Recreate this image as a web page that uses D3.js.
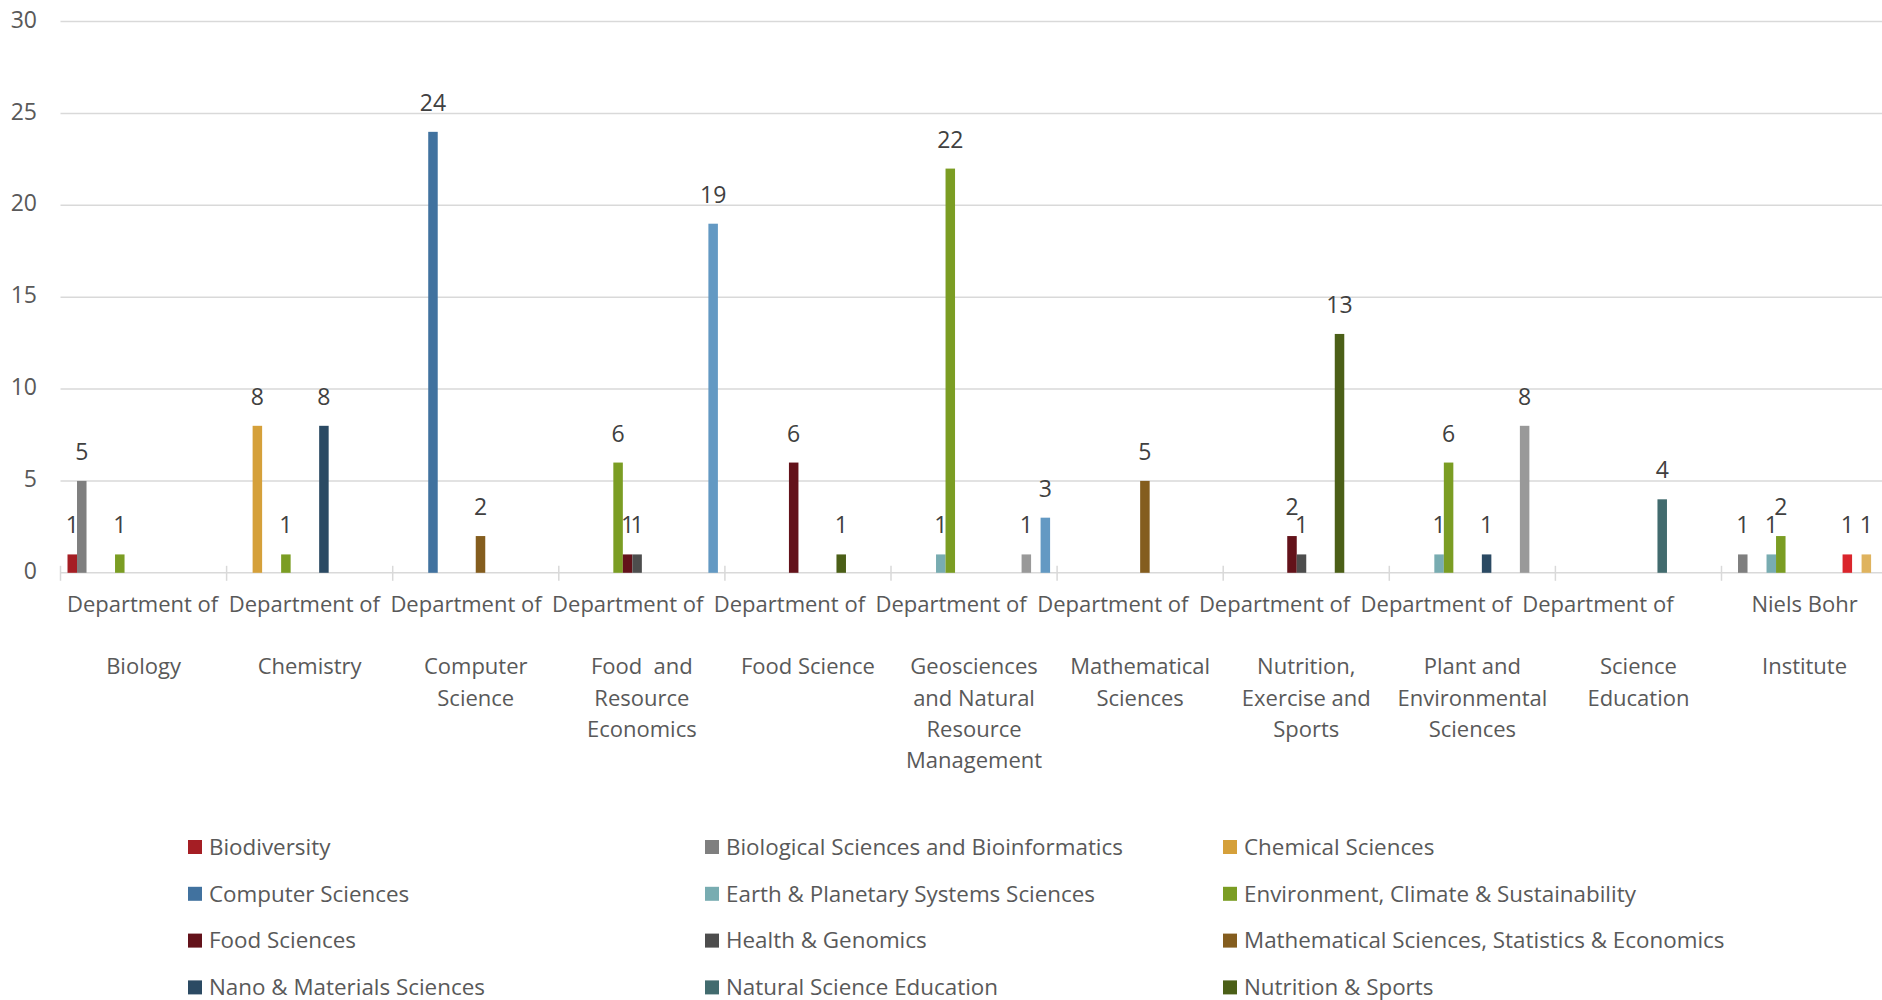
<!DOCTYPE html>
<html>
<head>
<meta charset="utf-8">
<script src="https://cdn.jsdelivr.net/npm/d3@7"></script>
<style>
  html, body { margin: 0; padding: 0; background: #fff; overflow: hidden; }
  svg { display: block; font-family: "Open Sans", "Noto Sans", sans-serif; }
</style>
</head>
<body>
<svg id="chart" width="1882" height="1000"></svg>
<script>
// ---------- data ----------
const categories = [
  "Department of Biology",
  "Department of Chemistry",
  "Department of Computer Science",
  "Department of Food and Resource Economics",
  "Department of Food Science",
  "Department of Geosciences and Natural Resource Management",
  "Department of Mathematical Sciences",
  "Department of Nutrition, Exercise and Sports",
  "Department of Plant and Environmental Sciences",
  "Department of Science Education",
  "Niels Bohr Institute"
];
const categoryLines = [
  ["Department of", "", "Biology"],
  ["Department of", "", "Chemistry"],
  ["Department of", "", "Computer", "Science"],
  ["Department of", "", "Food  and", "Resource", "Economics"],
  ["Department of", "", "Food Science"],
  ["Department of", "", "Geosciences", "and Natural", "Resource", "Management"],
  ["Department of", "", "Mathematical", "Sciences"],
  ["Department of", "", "Nutrition,", "Exercise and", "Sports"],
  ["Department of", "", "Plant and", "Environmental", "Sciences"],
  ["Department of", "", "Science", "Education"],
  ["Niels Bohr", "", "Institute"]
];
const seriesNames = [
  "Biodiversity",
  "Biological Sciences and Bioinformatics",
  "Chemical Sciences",
  "Computer Sciences",
  "Earth & Planetary Systems Sciences",
  "Environment, Climate & Sustainability",
  "Food Sciences",
  "Health & Genomics",
  "Mathematical Sciences, Statistics & Economics",
  "Nano & Materials Sciences",
  "Natural Science Education",
  "Nutrition & Sports",
  "Physics",
  "Plant Sciences",
  "Science & Society",
  "Social Sciences & Economics"
];
const seriesColors = [
  "#A51E24", "#7F7F7F", "#D5A03A", "#41729F", "#78ACB1", "#7B9D23",
  "#63121A", "#4D4D4D", "#845D1E", "#2B4A63", "#426B6E", "#4B5F17",
  "#DA252C", "#999999", "#DFB35E", "#6399C3"
];
// values per series, in category order
const vBiodiversity      = [1, 0, 0, 0, 0, 0, 0, 0, 0, 0, 0];
const vBiological        = [5, 0, 0, 0, 0, 0, 0, 0, 0, 0, 1];
const vChemical          = [0, 8, 0, 0, 0, 0, 0, 0, 0, 0, 0];
const vComputer          = [0, 0, 24, 0, 0, 0, 0, 0, 0, 0, 0];
const vEarth             = [0, 0, 0, 0, 0, 1, 0, 0, 1, 0, 1];
const vEnvironment       = [1, 1, 0, 6, 0, 22, 0, 0, 6, 0, 2];
const vFood              = [0, 0, 0, 1, 6, 0, 0, 2, 0, 0, 0];
const vHealth            = [0, 0, 0, 1, 0, 0, 0, 1, 0, 0, 0];
const vMath              = [0, 0, 2, 0, 0, 0, 5, 0, 0, 0, 0];
const vNano              = [0, 8, 0, 0, 0, 0, 0, 0, 1, 0, 0];
const vNaturalEducation  = [0, 0, 0, 0, 0, 0, 0, 0, 0, 4, 0];
const vNutrition         = [0, 0, 0, 0, 1, 0, 0, 13, 0, 0, 0];
const vPhysics           = [0, 0, 0, 0, 0, 0, 0, 0, 0, 0, 1];
const vPlant             = [0, 0, 0, 0, 0, 1, 0, 0, 8, 0, 0];
const vScienceSociety    = [0, 0, 0, 0, 0, 0, 0, 0, 0, 0, 1];
const vSocial            = [0, 0, 0, 19, 0, 3, 0, 0, 0, 0, 0];
const seriesValues = [vBiodiversity, vBiological, vChemical, vComputer, vEarth, vEnvironment,
  vFood, vHealth, vMath, vNano, vNaturalEducation, vNutrition, vPhysics, vPlant, vScienceSociety, vSocial];
const yTicks = [0, 5, 10, 15, 20, 25, 30];

// ---------- layout ----------
const svg = d3.select("#chart");
const W = 1882;
const left = 60.5, bandW = 166.1;
const y0px = 572.8, yTopPx = 21.6;

const x0 = d3.scaleBand().domain(categories).range([left, left + bandW * categories.length]).padding(0);
const x1 = d3.scaleBand().domain(seriesNames).range([0, x0.bandwidth()]).paddingInner(0).paddingOuter(0.737);
const y = d3.scaleLinear().domain([0, 30]).range([y0px, yTopPx]);
const color = d3.scaleOrdinal().domain(seriesNames).range(seriesColors);

// gridlines
svg.append("g").selectAll("line").data(yTicks).join("line")
  .attr("x1", left).attr("x2", W)
  .attr("y1", d => y(d)).attr("y2", d => y(d))
  .attr("stroke", "#D9D9D9").attr("stroke-width", 1.5);

// y axis labels
svg.append("g").selectAll("text").data(yTicks).join("text")
  .attr("x", 37).attr("y", d => y(d) - 2).attr("dy", "0.35em")
  .attr("text-anchor", "end").attr("font-size", 23).attr("fill", "#595959")
  .text(d => d);

// category tick marks (band boundaries)
const boundaries = d3.range(categories.length + 1).map(i => left + i * x0.step());
svg.append("g").selectAll("line").data(boundaries).join("line")
  .attr("x1", d => d).attr("x2", d => d)
  .attr("y1", y0px - 7).attr("y2", y0px + 8)
  .attr("stroke", "#D9D9D9").attr("stroke-width", 1.5);

// bars
const flat = [];
categories.forEach((c, ci) => {
  seriesNames.forEach((s, si) => {
    const v = seriesValues[si][ci];
    if (v > 0) flat.push({ cat: c, series: s, value: v });
  });
});
svg.append("g").selectAll("rect").data(flat).join("rect")
  .attr("x", d => x0(d.cat) + x1(d.series))
  .attr("y", d => y(d.value))
  .attr("width", x1.bandwidth())
  .attr("height", d => y(0) - y(d.value))
  .attr("fill", d => color(d.series));

// data labels
svg.append("g").selectAll("text").data(flat).join("text")
  .attr("x", d => x0(d.cat) + x1(d.series) + x1.bandwidth() / 2)
  .attr("y", d => y(d.value) - 21)
  .attr("text-anchor", "middle").attr("font-size", 23).attr("fill", "#404040")
  .text(d => d.value);

// category labels
const lineH = 31.2, firstBase = 612;
const catG = svg.append("g").attr("font-size", 22).attr("fill", "#595959");
categories.forEach((c, ci) => {
  const lines = categoryLines[ci];
  lines.forEach((ln, k) => {
    if (!ln) return;
    const t = catG.append("text")
      .attr("y", firstBase + k * lineH)
      .style("white-space", "pre")
      .text(ln);
    if (k === 0 && ln === "Department of") {
      t.attr("x", 67 + ci * 161.7).attr("text-anchor", "start");
    } else {
      t.attr("x", x0(c) + x0.bandwidth() / 2).attr("text-anchor", "middle");
    }
  });
});

// legend
const legCols = [188, 705, 1223];
const legTop = 840, legRowH = 46.8;
const legG = svg.append("g").attr("font-size", 22.4).attr("fill", "#595959");
seriesNames.forEach((s, i) => {
  const col = i % 3, row = Math.floor(i / 3);
  const gx = legCols[col], gy = legTop + row * legRowH;
  legG.append("rect").attr("x", gx).attr("y", gy).attr("width", 14).attr("height", 14).attr("fill", color(s));
  legG.append("text").attr("x", gx + 21).attr("y", gy + 7).attr("dy", "0.35em").text(s);
});
</script>
</body>
</html>
